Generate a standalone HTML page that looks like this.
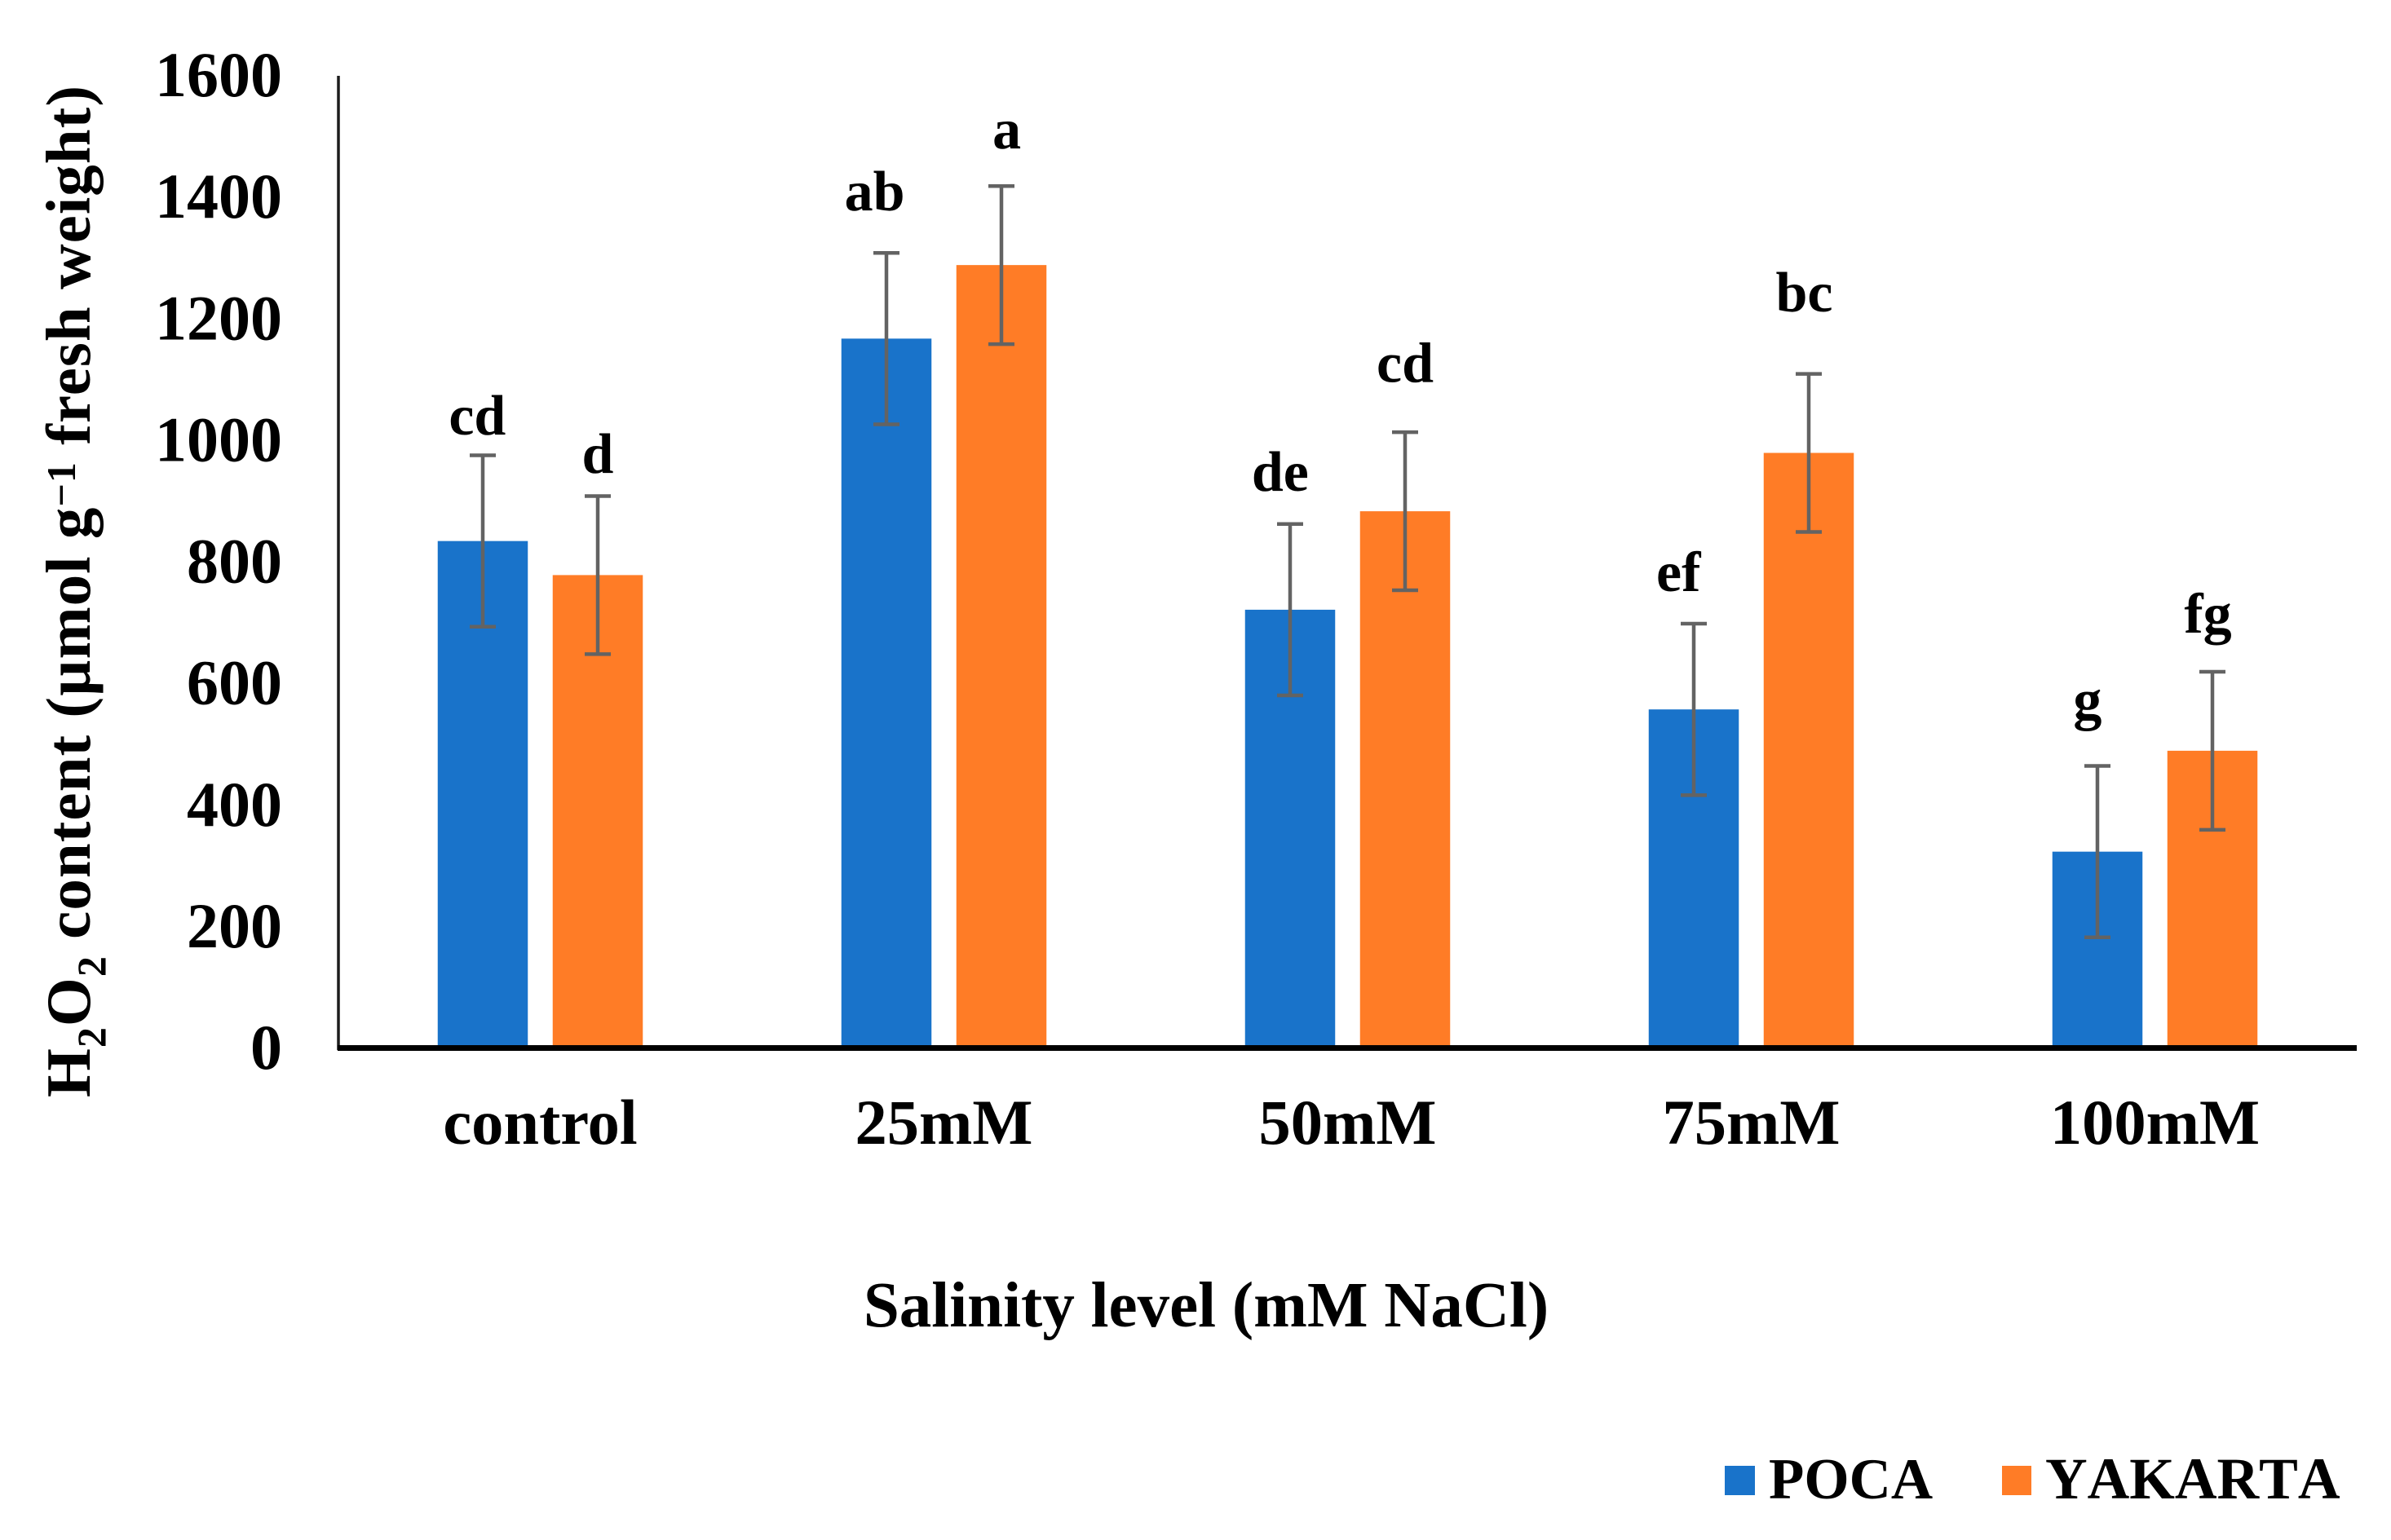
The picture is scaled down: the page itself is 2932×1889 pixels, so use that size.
<!DOCTYPE html>
<html lang="en">
<head>
<meta charset="utf-8">
<title>H2O2 content by salinity level</title>
<style>
html,body{margin:0;padding:0;background:#fff;}
svg{display:block;}
text{font-family:"Liberation Serif",serif;font-weight:bold;fill:#000;}
</style>
</head>
<body>
<svg id="chart" xmlns="http://www.w3.org/2000/svg" width="2932" height="1889" viewBox="0 0 2932 1889">
<rect x="0" y="0" width="2932" height="1889" fill="#ffffff"/>
<g id="bars"></g>
<g id="errors"></g>
<g id="letters"></g>
<g id="yticks"></g>
<g id="xticks"></g>
<line x1="415" y1="93" x2="415" y2="1288" stroke="#1c1c1c" stroke-width="3.5"/>
<line x1="414" y1="1285.5" x2="2890" y2="1285.5" stroke="#000000" stroke-width="7"/>
<text transform="translate(110,1346) rotate(-90)" font-size="77" textLength="1241" xml:space="preserve">H<tspan font-size="50" dy="19">2</tspan><tspan dy="-19">O</tspan><tspan font-size="50" dy="19">2</tspan><tspan dy="-19"> content (µmol g</tspan><tspan font-size="50" dy="-18">−1</tspan><tspan dy="18"> fresh weight)</tspan></text>
<text x="1479" y="1627" font-size="79" text-anchor="middle">Salinity level (mM NaCl)</text>
<g>
<rect x="2115" y="1798" width="37" height="36" fill="#1973CA"/>
<text x="2169" y="1838" font-size="71">POCA</text>
<rect x="2455" y="1798" width="36" height="36" fill="#FF7C26"/>
<text x="2508" y="1838" font-size="71.5" style="font-kerning:none">YAKARTA</text>
</g>
</svg>
<script>
const categories = ["control", "25mM", "50mM", "75mM", "100mM"];
const pocaValues = [834, 1167, 721, 557, 323];
const yakartaValues = [778, 1288, 883, 979, 489];
const pocaErrors = [141, 141, 141, 141, 141];
const yakartaErrors = [130, 130, 130, 130, 130];
const pocaLetters = ["cd", "ab", "de", "ef", "g"];
const yakartaLetters = ["d", "a", "cd", "bc", "fg"];
const pocaLetterLift = [34, 70, 55, 54, 78];
const yakartaLetterLift = [38, 62, 83, 103, 64];
const pocaLetterNudge = [-0.06, -0.13, -0.11, -0.17, -0.11];
const yakartaLetterNudge = [0, 0.06, 0, -0.05, -0.05];
const yTickLabels = ["0", "200", "400", "600", "800", "1000", "1200", "1400", "1600"];

const NS = "http://www.w3.org/2000/svg";
const plotLeft = 415, plotRight = 2890, baseY = 1285.5, yMax = 1600, plotTop = 92.5;
const barWidth = 110.5, barOffset = 70.5, capHalf = 16;
const blue = "#1973CA", orange = "#FF7C26", errColor = "#636363";

function yScale(v) { return baseY - (v / yMax) * (baseY - plotTop); }
function xCenter(i) { return plotLeft + (plotRight - plotLeft) * (i + 0.5) / categories.length; }
function make(tag, attrs, parent) {
  const el = document.createElementNS(NS, tag);
  for (const k in attrs) el.setAttribute(k, attrs[k]);
  parent.appendChild(el);
  return el;
}

const barsG = document.getElementById("bars");
const errorsG = document.getElementById("errors");
const lettersG = document.getElementById("letters");
const yticksG = document.getElementById("yticks");
const xticksG = document.getElementById("xticks");

yTickLabels.forEach(function (label) {
  const t = make("text", { x: 346, y: yScale(Number(label)) + 25.5, "font-size": 78, "text-anchor": "end" }, yticksG);
  
  
  t.textContent = label;
});

categories.forEach(function (cat, i) {
  const t = make("text", { x: xCenter(i), y: 1403, "font-size": 78.5, "text-anchor": "middle" }, xticksG);
  
  
  t.textContent = cat;
});

function drawSeries(values, errors, letters, lifts, nudges, side, color, seriesName) {
  values.forEach(function (v, i) {
    const cx = xCenter(i) + side * barOffset;
    const top = yScale(v);
    const bar = make("rect", { x: cx - barWidth / 2, y: top, width: barWidth, height: baseY - top, fill: color }, barsG);
    
    

    const hi = yScale(v + errors[i]);
    const lo = yScale(v - errors[i]);
    const err = make("g", { stroke: errColor, "stroke-width": 4.5, fill: "none" }, errorsG);
    
    
    make("line", { x1: cx, y1: hi, x2: cx, y2: lo }, err);
    make("line", { x1: cx - capHalf, y1: hi, x2: cx + capHalf, y2: hi }, err);
    make("line", { x1: cx - capHalf, y1: lo, x2: cx + capHalf, y2: lo }, err);

    const letter = make("text", { x: cx + nudges[i] * barWidth, y: yScale(v + errors[i] + lifts[i]), "font-size": 70, "text-anchor": "middle" }, lettersG);
    
    
    letter.textContent = letters[i];
  });
}

drawSeries(pocaValues, pocaErrors, pocaLetters, pocaLetterLift, pocaLetterNudge, -1, blue, "poca");
drawSeries(yakartaValues, yakartaErrors, yakartaLetters, yakartaLetterLift, yakartaLetterNudge, 1, orange, "yakarta");
</script>
</body>
</html>
